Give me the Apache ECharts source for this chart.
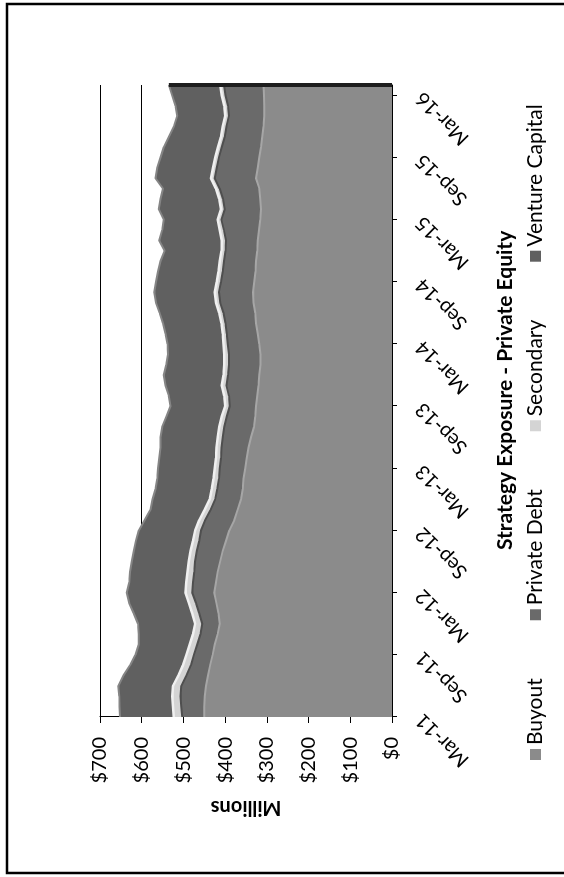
<!DOCTYPE html>
<html>
<head>
<meta charset="utf-8">
<script src="https://cdn.jsdelivr.net/npm/echarts@6/dist/echarts.min.js"></script>
<style>
html,body{margin:0;padding:0;width:564px;height:877px;overflow:hidden;background:#fff;}
#wrap{position:absolute;left:0;top:0;width:877px;height:564px;transform-origin:0 0;transform:translate(0,877px) rotate(-90deg);}
#chart{width:877px;height:564px;}
</style>
</head>
<body>
<div id="wrap"><div id="chart"></div></div>
<script>
const categories = [
  'Mar-11','Apr-11','May-11','Jun-11','Jul-11','Aug-11','Sep-11','Oct-11','Nov-11','Dec-11',
  'Jan-12','Feb-12','Mar-12','Apr-12','May-12','Jun-12','Jul-12','Aug-12','Sep-12','Oct-12','Nov-12','Dec-12',
  'Jan-13','Feb-13','Mar-13','Apr-13','May-13','Jun-13','Jul-13','Aug-13','Sep-13','Oct-13','Nov-13','Dec-13',
  'Jan-14','Feb-14','Mar-14','Apr-14','May-14','Jun-14','Jul-14','Aug-14','Sep-14','Oct-14','Nov-14','Dec-14',
  'Jan-15','Feb-15','Mar-15','Apr-15','May-15','Jun-15','Jul-15','Aug-15','Sep-15','Oct-15','Nov-15','Dec-15',
  'Jan-16','Feb-16','Mar-16','Apr-16'
];
const buyout = [450,450,449,446,441,436,430,425,418,413,416,421,426,422,418,412,406,398,390,378,370,362,358,356,352,348,344,338,331,328,326,323,320,318,315,315,318,322,326,328,332,333,330,327,326,323,322,319,316,314,316,318,326,322,318,314,311,308,306,306,307,308];
const privateDebt = [53,55,58,59,52,46,45,42,41,42,46,49,53,55,56,60,62,64,68,70,65,62,61,59,61,62,65,68,71,68,63,68,77,75,76,76,76,74,73,76,80,82,80,79,77,76,76,84,93,87,89,95,99,98,97,94,90,89,85,87,92,95];
const secondary = [20,20,20,20,19,19,18,18,18,17,17,17,16,16,16,15,15,15,14,14,14,13,13,13,12,12,12,12,12,12,11,11,11,11,11,11,10,10,10,10,10,10,10,10,10,10,10,10,9,9,9,9,9,9,9,9,9,9,9,9,9,9];
const ventureCapital = [129,128,127,131,132,127,122,122,130,137,140,143,141,137,138,137,136,137,135,131,130,137,135,135,136,136,134,137,137,133,131,133,135,143,139,135,134,137,140,143,144,145,146,145,142,136,150,138,129,149,141,127,133,134,131,130,125,117,115,117,119,123];
const seriesNames = ['Buyout','Private Debt','Secondary','Venture Capital'];
const valueTicks = [0,100,200,300,400,500,600,700];

const FONT = 'Lato';
const fills = ['#8b8b8b','#6a6a6a','#d4d4d4','#606060'];
const edges = ['#a6a6a6','#4f4f4f','#f0f0f0','#858585'];
const dataSets = [buyout, privateDebt, secondary, ventureCapital];
const lastIdx = categories.length - 1;
const lastTotal = dataSets.reduce((s, d) => s + d[lastIdx], 0);

const chart = echarts.init(document.getElementById('chart'));
chart.setOption({
  animation: false,
  backgroundColor: '#fff',
  textStyle: {fontFamily: FONT, color: '#000'},
  title: {
    text: 'Strategy Exposure - Private Equity',
    left: 322, top: 490,
    textStyle: {fontFamily: FONT, fontSize: 21, fontWeight: 'bold', color: '#000'}
  },
  legend: {
    data: seriesNames,
    left: 112, top: 520,
    itemWidth: 11, itemHeight: 11, itemGap: 58,
    icon: 'rect',
    textStyle: {fontFamily: FONT, fontSize: 21, color: '#000', padding: [0,0,0,-1]}
  },
  grid: {left: 160, right: 85, top: 100, bottom: 172, containLabel: false},
  xAxis: {
    type: 'category',
    data: categories,
    boundaryGap: false,
    axisLine: {show: true, lineStyle: {color: '#000', width: 1}},
    axisTick: {show: true, interval: 5, length: 5, lineStyle: {color: '#000'}},
    axisLabel: {interval: 5, rotate: 45, fontSize: 20, fontFamily: FONT, color: '#000', margin: 27},
    splitLine: {show: false}
  },
  yAxis: {
    type: 'value',
    min: valueTicks[0], max: valueTicks[valueTicks.length - 1], interval: 100,
    name: 'Millions',
    nameLocation: 'middle', nameRotate: 90, nameGap: 80,
    nameTextStyle: {fontFamily: FONT, fontSize: 20, fontWeight: 'bold', color: '#000'},
    axisLine: {show: true, lineStyle: {color: '#000', width: 1}},
    axisTick: {show: true, length: 6, lineStyle: {color: '#000'}},
    axisLabel: {fontSize: 20, fontFamily: FONT, color: '#000', margin: 20, formatter: v => '$' + v},
    splitLine: {show: true, lineStyle: {color: '#000', width: 1}}
  },
  series: seriesNames.map((name, i) => ({
    name: name,
    type: 'line',
    stack: 'total',
    data: dataSets[i],
    symbol: 'none',
    smooth: false,
    itemStyle: {color: fills[i]},
    lineStyle: {color: edges[i], width: i === 2 ? 2.5 : 2},
    areaStyle: {color: fills[i], opacity: 1},
    markLine: i === 3 ? {
      silent: true, symbol: 'none', label: {show: false},
      lineStyle: {color: '#1e1e1e', width: 4, type: 'solid'},
      data: [[{coord: [lastIdx, 0]}, {coord: [lastIdx, lastTotal]}]]
    } : undefined
  })),
  graphic: [{
    type: 'polyline',
    shape: {points: [[4, 564], [4, 7], [873, 7], [873, 564]]},
    style: {stroke: '#000', lineWidth: 2.5, fill: null},
    silent: true
  }]
});
</script>
</body>
</html>
